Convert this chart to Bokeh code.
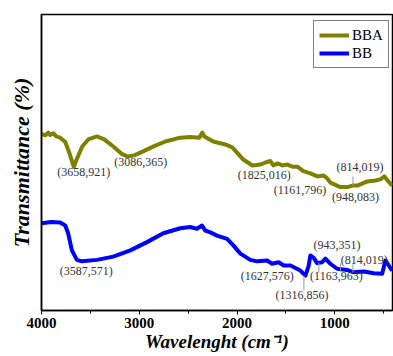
from bokeh.plotting import figure
from bokeh.models import Range1d, FixedTicker, Legend, LegendItem, ColumnDataSource
from bokeh.core.properties import value
from bokeh.embed import file_html
from bokeh.resources import INLINE

# ---------------- data ----------------
bba_wn = [4000, 3960, 3930, 3911, 3880, 3850, 3809, 3757, 3717, 3670, 3645, 3583,
          3522, 3433, 3358, 3266, 3184, 3123, 3051, 2939, 2836, 2734, 2580, 2478,
          2386, 2355, 2335, 2243, 2120, 2048, 1936, 1843, 1761, 1710, 1659, 1628,
          1587, 1536, 1485, 1434, 1383, 1322, 1250, 1178, 1117, 1086, 1045, 943,
          871, 820, 769, 667, 585, 534, 493, 452, 414]
bba_t = [59.7, 59.2, 60.1, 59.3, 59.9, 58.8, 58.4, 56.9, 53.4, 48.5, 50.7, 55.4,
         57.8, 58.8, 57.8, 55.4, 53.0, 52.0, 52.4, 54.1, 55.7, 57.1, 58.4, 58.6,
         58.4, 60.1, 58.8, 57.1, 56.1, 55.1, 51.0, 49.0, 49.3, 50.0, 50.5, 49.0,
         49.7, 49.0, 49.3, 48.6, 48.6, 47.1, 46.3, 45.3, 45.6, 44.9, 43.2, 41.7,
         41.7, 42.2, 42.2, 43.6, 43.9, 44.3, 45.3, 43.6, 42.2]

bb_wn = [4000, 3900, 3809, 3757, 3727, 3689, 3638, 3587, 3433, 3266, 3092, 2921,
         2754, 2580, 2478, 2410, 2358, 2325, 2273, 2205, 2102, 2038, 1966, 1864,
         1795, 1693, 1642, 1574, 1523, 1454, 1352, 1301, 1267, 1250, 1216, 1181,
         1130, 1096, 1045, 977, 874, 807, 704, 602, 516, 482, 448, 414]
bb_t = [29.5, 29.9, 29.7, 28.7, 26.0, 20.3, 17.1, 16.6, 17.1, 18.2, 20.3, 23.1,
        26.1, 27.8, 28.2, 27.6, 28.7, 27.0, 26.4, 25.3, 24.2, 22.0, 19.2, 17.1,
        16.6, 16.9, 15.8, 16.3, 15.2, 15.2, 13.5, 11.8, 15.2, 18.6, 17.8, 16.0,
        16.3, 17.5, 15.8, 14.1, 13.7, 12.9, 13.2, 12.6, 12.4, 16.9, 15.2, 13.5]

# peak annotations
bba_labels = ["(3658,921)", "(3086,365)", "(1825,016)", "(1161,796)", "(948,083)", "(814,019)"]
bba_lab_x = [3568, 2985, 1721, 1357, 789, 743]
bba_lab_y = [46.7, 50.1, 45.9, 40.8, 38.3, 48.6]

bb_labels = ["(3587,571)", "(1627,576)", "(1316,856)", "(1163,963)", "(943,351)", "(814,019)"]
bb_lab_x = [3542, 1690, 1335, 984, 978, 700]
bb_lab_y = [13.2, 11.8, 5.4, 11.5, 22.2, 17.1]

# small peak marker lines
mark_x = [814, 1316, 1163, 943, 814]
mark_y0 = [42.2, 6.8, 12.8, 13.5, 12.8]
mark_y1 = [45.3, 11.8, 16.2, 15.9, 15.9]

x_major = [4000, 3000, 2000, 1000]
x_minor = [3500, 2500, 1500, 500]
series_names = ["BBA", "BB"]
colors = ["#808000", "#0000FF"]
x_title = "Wavelenght (cm\u207b\u00b9)"
y_title = "Transmittance (%)"

SERIF = "Liberation Serif"

p = figure(width=393, height=356, output_backend="svg", toolbar_location=None,
           x_range=Range1d(4000, 410), y_range=Range1d(0, 100),
           min_border_left=41, min_border_right=1, min_border_top=14,
           min_border_bottom=46)
p.background_fill_color = "white"
p.border_fill_color = "white"
p.outline_line_color = "black"
p.outline_line_width = 1.5
p.xgrid.visible = False
p.ygrid.visible = False

# x axis
xa = p.xaxis[0]
xa.ticker = FixedTicker(ticks=x_major, minor_ticks=x_minor)
xa.major_label_text_font = SERIF
xa.major_label_text_font_style = "bold"
xa.major_label_text_font_size = "15px"
xa.major_label_text_color = "black"
xa.major_label_standoff = 3
xa.axis_line_width = 1.5
xa.axis_line_color = "black"
xa.major_tick_out = 4
xa.major_tick_in = 0
xa.minor_tick_out = 3
xa.minor_tick_in = 0
xa.major_tick_line_color = "black"
xa.minor_tick_line_color = "black"
xa.axis_label = x_title
xa.axis_label_text_font = SERIF
xa.axis_label_text_font_style = "bold italic"
xa.axis_label_text_font_size = "19px"
xa.axis_label_text_color = "black"
xa.axis_label_standoff = 0

# y axis (no ticks)
ya = p.yaxis[0]
ya.ticker = FixedTicker(ticks=[])
ya.major_tick_out = 0
ya.major_tick_in = 0
ya.minor_tick_out = 0
ya.minor_tick_in = 0
ya.major_label_text_font_size = "0px"
ya.axis_line_width = 1.5
ya.axis_line_color = "black"
ya.axis_label = y_title
ya.axis_label_text_font = SERIF
ya.axis_label_text_font_style = "bold italic"
ya.axis_label_text_font_size = "22px"
ya.axis_label_text_color = "black"
ya.axis_label_standoff = 8

r1 = p.line(bba_wn, bba_t, line_color=colors[0], line_width=4, line_join="round")
r2 = p.line(bb_wn, bb_t, line_color=colors[1], line_width=4, line_join="round")

p.segment(x0=mark_x, y0=mark_y0, x1=mark_x, y1=mark_y1, line_color="#9a9a9a", line_width=1)

for labs, xs, ys in ((bba_labels, bba_lab_x, bba_lab_y), (bb_labels, bb_lab_x, bb_lab_y)):
    src = ColumnDataSource(dict(x=xs, y=ys, t=labs))
    p.text(x="x", y="y", text="t", source=src, text_font=value(SERIF),
           text_font_size="12px", text_color="#333333", text_align="center",
           text_baseline="middle")

legend = Legend(items=[LegendItem(label=series_names[0], renderers=[r1]),
                       LegendItem(label=series_names[1], renderers=[r2])],
                location=(272, 242))
legend.label_text_font = SERIF
legend.label_text_font_size = "15px"
legend.label_text_color = "black"
legend.glyph_width = 30
legend.glyph_height = 18
legend.label_height = 18
legend.label_standoff = 3
legend.spacing = 0
legend.padding = 5
legend.margin = 0
legend.border_line_color = "black"
legend.border_line_width = 1
legend.background_fill_color = "white"
legend.background_fill_alpha = 1
p.add_layout(legend, "center")

open("out.html", "w").write(file_html(p, INLINE))
